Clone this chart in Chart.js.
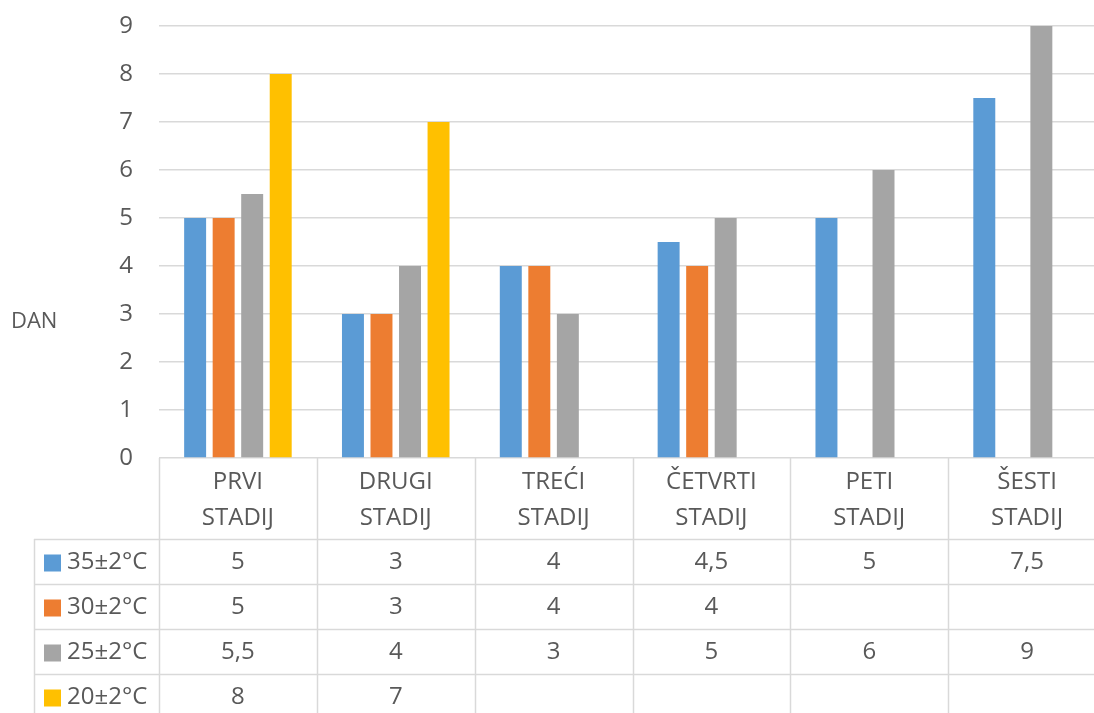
<!DOCTYPE html>
<html>
<head>
<meta charset="utf-8">
<script src="https://cdn.jsdelivr.net/npm/chart.js@4"></script>
<style>
  html, body { margin: 0; padding: 0; background: #fff; overflow: hidden; }
  canvas { display: block; }
</style>
</head>
<body>
<canvas id="chart" width="1108" height="713"></canvas>
<script>
const categories = [["PRVI", "STADIJ"], ["DRUGI", "STADIJ"], ["TREĆI", "STADIJ"], ["ČETVRTI", "STADIJ"], ["PETI", "STADIJ"], ["ŠESTI", "STADIJ"]];
const seriesNames = ["35±2°C", "30±2°C", "25±2°C", "20±2°C"];
const t35 = [5, 3, 4, 4.5, 5, 7.5];
const t30 = [5, 3, 4, 4, null, null];
const t25 = [5.5, 4, 3, 5, 6, 9];
const t20 = [8, 7, null, null, null, null];
const colors = ["#5b9bd5", "#ed7d31", "#a5a5a5", "#ffc000"];
const yTicks = [0, 1, 2, 3, 4, 5, 6, 7, 8, 9];

const FONT = "'Open Sans', 'Noto Sans', sans-serif";
const TEXT = "#595959";
const LINE = "#d9d9d9";

const seriesData = [t35, t30, t25, t20];

// data table under the plot, drawn from the x scale
const tablePlugin = {
  id: "dataTable",
  afterDraw(chart) {
    const c = chart.ctx;
    const x = chart.scales.x;
    const area = chart.chartArea;
    const colW = (area.right - area.left) / categories.length;
    const top = area.bottom;
    const headBottom = 539;
    const rowH = 45;
    const leftX = 34;
    const bottom = 713;

    c.save();
    c.strokeStyle = LINE;
    c.lineWidth = 1.5;
    // verticals
    for (let i = 0; i <= categories.length; i++) {
      const px = Math.round(area.left + i * colW) + 0.5;
      c.beginPath();
      c.moveTo(px, top);
      c.lineTo(px, bottom);
      c.stroke();
    }
    c.beginPath();
    c.moveTo(leftX + 0.5, headBottom);
    c.lineTo(leftX + 0.5, bottom);
    c.stroke();
    // horizontals
    for (let r = 0; r < seriesNames.length; r++) {
      const py = Math.round(headBottom + r * rowH) + 0.5;
      c.beginPath();
      c.moveTo(leftX, py);
      c.lineTo(area.right, py);
      c.stroke();
    }

    c.fillStyle = TEXT;
    c.font = "24px " + FONT;
    c.textAlign = "center";
    c.textBaseline = "middle";
    categories.forEach((lab, i) => {
      const cx = x.getPixelForValue(i);
      c.fillText(lab[0], cx, 482);
      c.fillText(lab[1], cx, 518);
    });

    seriesNames.forEach((name, r) => {
      const cy = headBottom + r * rowH + rowH / 2 + 1;
      c.fillStyle = colors[r];
      c.fillRect(44, cy - 8, 17, 17);
      c.fillStyle = TEXT;
      c.textAlign = "left";
      c.fillText(name, 67, cy);
      c.textAlign = "center";
      seriesData[r].forEach((v, i) => {
        if (v === null) return;
        c.fillText(String(v).replace(".", ","), x.getPixelForValue(i), cy);
      });
    });

    // axis title
    c.textAlign = "left";
    c.font = "22px " + FONT;
    c.fillText("DAN", 11, 322);
    c.restore();
  }
};

new Chart(document.getElementById("chart"), {
  type: "bar",
  data: {
    labels: categories.map(l => l.join(" ")),
    datasets: seriesNames.map((name, i) => ({
      label: name,
      data: seriesData[i],
      backgroundColor: colors[i],
      categoryPercentage: 0.723,
      barPercentage: 0.77
    }))
  },
  options: {
    responsive: false,
    animation: false,
    layout: { padding: { top: 26, bottom: 255, left: 0, right: 2 } },
    plugins: { legend: { display: false }, tooltip: { enabled: false } },
    scales: {
      x: {
        display: false
      },
      y: {
        min: 0,
        max: 9,
        afterBuildTicks: s => { s.ticks = yTicks.map(v => ({ value: v })); },
        afterFit: s => { s.width = 159; s.paddingTop = 0; s.paddingBottom = 0; },
        border: { display: false },
        grid: { color: LINE, lineWidth: 1.5, drawTicks: false },
        ticks: { color: TEXT, font: { family: FONT, size: 24 }, padding: 26 }
      }
    }
  },
  plugins: [tablePlugin]
});
</script>
</body>
</html>
